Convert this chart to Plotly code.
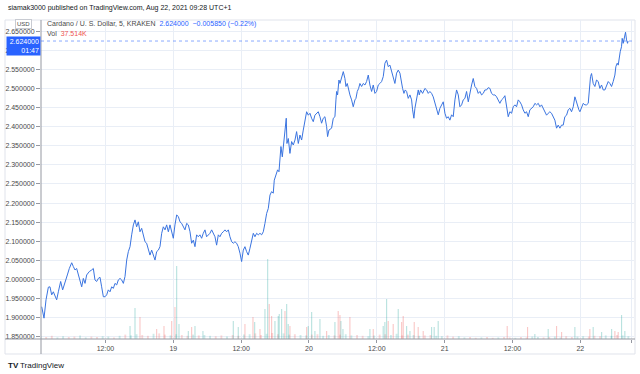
import pandas as pd
import plotly.graph_objects as go

# ---------------- data ----------------
base_time = "2021-08-18 00:00"

price_hours = [
    0.71, 1.12, 1.48, 1.89, 2.18, 2.48, 2.77, 3.07, 3.36, 3.66, 4.07, 4.42, 4.84, 5.25, 5.60, 6.02,
    6.31, 6.61, 6.90, 7.20, 7.49, 7.79, 8.08, 8.38, 8.67, 9.14, 9.55, 9.85, 10.14, 10.44, 10.73,
    11.03, 11.32, 11.62, 11.91, 12.21, 12.50, 12.80, 13.09, 13.39, 13.68, 13.98, 14.27, 14.57,
    14.86, 15.16, 15.45, 15.75, 16.04, 16.34, 16.63, 16.93, 17.22, 17.51, 17.81, 18.10, 18.40,
    18.69, 18.99, 19.28, 19.58, 19.87, 20.17, 20.46, 20.76, 21.05, 21.35, 21.64, 21.94, 22.23,
    22.53, 22.82, 23.12, 23.41, 23.71, 24.00, 24.29, 24.59, 24.88, 25.18, 25.47, 25.77, 26.06,
    26.36, 26.65,
    26.95, 27.24, 27.54, 27.83, 28.12, 28.42, 28.71, 29.01, 29.30, 29.60, 29.89, 30.19, 30.48,
    30.78, 31.07, 31.37, 31.66, 31.96, 32.25, 32.55, 32.84, 33.14, 33.43, 33.73, 34.02, 34.32,
    34.61, 34.90, 35.20, 35.49, 35.79, 36.08, 36.38, 36.67, 36.97, 37.26, 37.56, 37.85, 38.15,
    38.44, 38.74, 39.03, 39.33, 39.62, 39.92, 40.21, 40.51, 40.80, 41.10, 41.39, 41.68, 41.86,
    42.10, 42.45, 42.69, 42.86, 43.04, 43.28, 43.51, 43.75, 43.98, 44.10, 44.34, 44.63, 44.93,
    45.22, 45.52, 45.81, 46.11, 46.40, 46.70, 46.99, 47.29, 47.58, 47.88, 48.17, 48.46, 48.76,
    49.05, 49.35, 49.64, 49.94, 50.23, 50.53, 50.82, 51.12, 51.29, 51.53,
    52.00, 52.30, 52.59, 52.77, 52.89, 53.06, 53.30, 53.48, 53.77, 54.07, 54.36, 54.54, 54.77,
    55.01, 55.24, 55.54, 55.83, 56.13, 56.31, 56.54, 56.78, 57.01, 57.31, 57.60, 57.90, 58.19,
    58.49, 58.78, 59.08, 59.37, 59.67, 59.96, 60.26, 60.55, 60.85, 61.14, 61.44, 61.73, 62.02,
    62.32, 62.61, 62.91, 63.20, 63.50, 63.79, 64.09, 64.27, 64.56, 64.80, 65.03, 65.27, 65.56,
    65.86, 66.15, 66.33, 66.56, 66.74, 67.04, 67.33, 67.51, 67.74, 68.10, 68.51, 68.81, 69.10,
    69.39, 69.69, 69.98, 70.28, 70.57, 70.87, 71.16, 71.46, 71.75, 72.05, 72.34, 72.64, 72.93,
    73.23, 73.52, 73.82, 74.11, 74.41, 74.70, 75.00, 75.29, 75.59, 75.88, 76.18, 76.47, 76.77,
    77.06, 77.35, 77.65, 77.94,
    78.24, 78.53, 78.83, 79.12, 79.42, 79.71, 80.01, 80.30, 80.60, 80.89, 81.19, 81.48, 81.77,
    82.07, 82.36, 82.66, 82.95, 83.13, 83.25, 83.54, 83.84, 84.13, 84.43, 84.72, 85.02, 85.31,
    85.61, 85.90, 86.20, 86.49, 86.79, 87.08, 87.38, 87.67, 87.97, 88.26, 88.56, 88.85, 89.14,
    89.44, 89.73, 90.03, 90.32, 90.62, 90.91, 91.21, 91.50, 91.80, 92.09, 92.39, 92.68, 92.98,
    93.27, 93.57, 93.86, 94.16, 94.45, 94.75, 95.04, 95.22, 95.45, 95.75, 95.93, 96.22, 96.52,
    96.81, 97.11, 97.40, 97.58, 97.81, 97.99, 98.28, 98.58, 98.87, 99.17, 99.46, 99.76, 100.05,
    100.35, 100.64, 100.94, 101.23, 101.53, 101.82, 102.12, 102.29, 102.53, 102.71, 102.88,
    103.06, 103.29, 103.41, 103.59, 103.77, 104.00, 104.18, 104.36, 104.45,
]

price_values = [
    1.929, 1.899, 1.947, 1.980, 1.981, 1.960, 1.968, 1.955, 1.947, 1.968, 1.995, 1.973, 1.990, 2.012, 2.029, 2.044,
    2.034, 2.025, 2.029, 2.012, 1.999, 1.981, 2.003, 1.990, 2.012, 2.021, 2.025, 2.029, 1.999, 1.995, 2.003,
    2.006, 1.981, 1.955, 1.955, 1.960, 1.973, 1.968, 1.981, 1.977, 1.990, 1.986, 1.999, 2.003,
    1.999, 1.990, 2.008, 2.051, 2.073, 2.086, 2.117, 2.143, 2.156, 2.138, 2.151, 2.125, 2.134,
    2.112, 2.099, 2.095, 2.077, 2.064, 2.077, 2.064, 2.051, 2.073, 2.077, 2.086, 2.121, 2.138,
    2.130, 2.143, 2.125, 2.143, 2.125, 2.108, 2.143, 2.169, 2.165, 2.151, 2.147, 2.138, 2.130,
    2.147, 2.143,
    2.125, 2.095, 2.103, 2.086, 2.117, 2.112, 2.117, 2.108, 2.121, 2.130, 2.112, 2.117, 2.121,
    2.130, 2.121, 2.112, 2.090, 2.117, 2.112, 2.121, 2.125, 2.130, 2.125, 2.130, 2.112, 2.099,
    2.095, 2.099, 2.095, 2.086, 2.069, 2.047, 2.077, 2.086, 2.073, 2.064, 2.082, 2.103, 2.121,
    2.112, 2.121, 2.117, 2.121, 2.117, 2.125, 2.147, 2.173, 2.186, 2.221, 2.230, 2.226, 2.260,
    2.269, 2.287, 2.282, 2.308, 2.348, 2.321, 2.356, 2.374, 2.422, 2.356, 2.369, 2.330, 2.361,
    2.352, 2.365, 2.387, 2.356, 2.378, 2.365, 2.391, 2.413, 2.439, 2.430, 2.435, 2.422, 2.413,
    2.430, 2.435, 2.439, 2.426, 2.409, 2.422, 2.426, 2.400, 2.374, 2.391,
    2.396, 2.422, 2.426, 2.470, 2.492, 2.483, 2.522, 2.513, 2.531, 2.544, 2.526, 2.505, 2.513,
    2.496, 2.483, 2.470, 2.452, 2.470, 2.474, 2.492, 2.500, 2.513, 2.505, 2.513, 2.509, 2.518,
    2.535, 2.509, 2.492, 2.509, 2.487, 2.492, 2.509, 2.513, 2.518, 2.531, 2.566, 2.574, 2.557,
    2.561, 2.544, 2.522, 2.513, 2.540, 2.548, 2.540, 2.522, 2.500, 2.487, 2.496, 2.492, 2.474,
    2.483, 2.470, 2.444, 2.422, 2.448, 2.470, 2.496, 2.483, 2.496, 2.487, 2.500, 2.496, 2.487,
    2.492, 2.487, 2.478, 2.461, 2.452, 2.431, 2.448, 2.457, 2.465, 2.435, 2.422, 2.426, 2.417,
    2.431, 2.426, 2.470, 2.496, 2.483, 2.452, 2.457, 2.470, 2.474, 2.492, 2.465, 2.492, 2.509,
    2.526, 2.505, 2.500, 2.487,
    2.492, 2.483, 2.487, 2.496, 2.496, 2.502, 2.500, 2.487, 2.483, 2.483, 2.478, 2.470, 2.461,
    2.470, 2.474, 2.481, 2.457, 2.439, 2.426, 2.439, 2.435, 2.452, 2.457, 2.452, 2.470, 2.465,
    2.457, 2.444, 2.435, 2.439, 2.426, 2.444, 2.448, 2.452, 2.461, 2.457, 2.461, 2.452, 2.457,
    2.448, 2.439, 2.430, 2.435, 2.439, 2.435, 2.426, 2.417, 2.396, 2.404, 2.396, 2.404, 2.404,
    2.426, 2.430, 2.444, 2.448, 2.439, 2.452, 2.478, 2.470, 2.457, 2.444, 2.439, 2.452, 2.461,
    2.457, 2.457, 2.461, 2.496, 2.531, 2.539, 2.513, 2.505, 2.522, 2.518, 2.500, 2.509, 2.496,
    2.496, 2.505, 2.518, 2.513, 2.505, 2.518, 2.535, 2.557, 2.566, 2.561, 2.583,
    2.596, 2.609, 2.631, 2.618, 2.631, 2.647, 2.627, 2.618, 2.624,
]

# notable volume bars (hours since base, thousands, up/down)
spike_hours = [16.34, 17.22, 18.10, 21.05, 22.35, 23.71, 24.29, 24.59, 25.00, 26.65, 27.24, 27.83,
               29.24, 34.61, 35.49, 36.67, 38.09, 38.39, 39.33, 40.21, 40.69, 40.97, 41.39, 41.98,
               42.56, 42.74, 43.16, 43.75, 44.05, 44.33, 44.63, 47.59, 47.87, 48.47, 49.05, 49.94,
               51.12, 52.59, 53.17, 53.48, 53.65, 54.01, 55.24, 58.78, 59.37, 61.13, 61.43, 61.73,
               62.02, 62.90, 63.79, 64.39, 64.67, 65.27, 65.86, 66.62, 67.32, 68.21, 69.69, 70.15,
               70.86, 83.07, 86.67, 87.96, 90.32, 91.80, 92.69, 95.04, 97.69, 98.28, 99.77, 101.54,
               102.12, 102.70, 103.30, 103.88]
spike_volume_k = [163, 388, 275, 125, 163, 225, 400, 913, 188, 100, 150, 163,
                  100, 225, 150, 188, 275, 213, 125, 375, 1000, 438, 288, 225,
                  288, 313, 375, 350, 438, 188, 163, 150, 163, 338, 100, 250,
                  100, 213, 350, 300, 225, 125, 275, 125, 125, 163, 213, 500,
                  225, 188, 375, 213, 288, 163, 100, 213, 150, 100, 150, 150,
                  225, 163, 150, 63, 125, 163, 88, 150, 125, 150, 88, 125,
                  100, 88, 300, 100]
spike_dir = list("uudddddu" "uuduuu" "uddud" "uudduuuud" "uudduu" "uudud" "duudu"
                 "duuudd" "udduu" "ddduu" "udduu" "dduduu" "udduud" "ud")

# hourly background volume (thousands), one per hour from 00:30 on Aug 18
hourly_volume_k = [30, 25, 40, 20, 35, 25, 30, 45, 20, 30, 25, 35, 30, 20, 40,
                   55, 45, 60, 50, 40, 65, 70, 55, 45, 60, 50, 40, 55, 45, 50,
                   40, 35, 45, 30, 50, 40, 55, 60, 70, 50, 65, 75, 60, 70, 55,
                   60, 50, 45, 55, 60, 40, 50, 45, 55, 60, 45, 50, 40, 35, 45,
                   55, 60, 50, 65, 45, 55, 50, 40, 45, 50, 40, 35, 45, 30, 35,
                   20, 25, 15, 20, 25, 15, 20, 25, 20, 15, 25, 20, 30, 25, 20,
                   25, 30, 20, 35, 25, 30, 35, 30, 40, 35, 45, 40, 50, 45, 35]
hourly_dir = list("udduudduudduudu" "duuddudduuddudu" "uddudduuddudduu" "duudduudduudduu"
                  "dduudduudduuddu" "uddudduddudduud" "duudduuddduuduu")

tick_times = ["2021-08-18 12:00", "2021-08-19 00:00", "2021-08-19 12:00", "2021-08-20 00:00",
              "2021-08-20 12:00", "2021-08-21 00:00", "2021-08-21 12:00", "2021-08-22 00:00",
              "2021-08-22 09:00"]
tick_labels = ["12:00", "19", "12:00", "20", "12:00", "21", "12:00", "22", "09:00"]

last_price = 2.624
view_start_h, view_end_h = 0.59, 105.5
vol_axis_max_k = 3990

# ---------------- build ----------------
base = pd.Timestamp(base_time)
t_price = base + pd.to_timedelta(price_hours, unit="h")
t_hourly = base + pd.to_timedelta([h + 0.5 for h in range(len(hourly_volume_k))], unit="h")
t_spike = base + pd.to_timedelta(spike_hours, unit="h")

UP = "rgba(38,166,154,0.22)"
DN = "rgba(239,83,80,0.22)"
UP_S = "rgba(38,166,154,0.32)"
DN_S = "rgba(239,83,80,0.32)"
n_sp = len(spike_hours)
spike_dir = (spike_dir + ["u"] * n_sp)[:n_sp]

LINE_BLUE = "#3a74e0"
BLUE = "#2962ff"
FONT = "Liberation Sans"

fig = go.Figure()
fig.add_trace(go.Bar(x=t_hourly, y=hourly_volume_k, yaxis="y2",
                     marker=dict(color=[UP if d == "u" else DN for d in hourly_dir], line_width=0),
                     width=20 * 60 * 1000, showlegend=False, hoverinfo="skip"))
fig.add_trace(go.Bar(x=t_spike, y=spike_volume_k, yaxis="y2",
                     marker=dict(color=[UP_S if d == "u" else DN_S for d in spike_dir], line_width=0),
                     width=12 * 60 * 1000, showlegend=False, hoverinfo="skip"))
fig.add_trace(go.Scatter(x=t_price, y=price_values, mode="lines",
                         line=dict(color=LINE_BLUE, width=1), showlegend=False, hoverinfo="skip"))

grid = "#e9eef6"
axcol = "#9598a1"
fig.update_layout(
    template="none",
    width=640, height=374,
    margin=dict(l=41, r=6, t=20, b=35, autoexpand=False),
    paper_bgcolor="white", plot_bgcolor="white",
    font=dict(family=FONT, size=7, color="#4a4a4a"),
    barmode="overlay",
    hovermode=False,
    xaxis=dict(type="date",
               range=[base + pd.Timedelta(hours=view_start_h), base + pd.Timedelta(hours=view_end_h)],
               tickvals=tick_times, ticktext=tick_labels,
               showgrid=True, gridcolor=grid, gridwidth=1, zeroline=False,
               ticks="outside", ticklen=3, tickcolor=axcol, showline=False,
               tickfont=dict(size=7, color="#4a4a4a"), automargin=False),
    yaxis=dict(range=[1.8445, 2.679], dtick=0.05, tick0=1.85, tickformat=".6f",
               showgrid=True, gridcolor=grid, gridwidth=1, zeroline=False,
               ticks="outside", ticklen=4, tickcolor=axcol, showline=False,
               tickfont=dict(size=7, color="#4a4a4a"), automargin=False),
    yaxis2=dict(overlaying="y", range=[0, vol_axis_max_k], visible=False),
)

shapes = [
    dict(type="rect", xref="paper", yref="paper", x0=-0.0607, x1=1.0017, y0=-0.047, y1=1.0,
         line=dict(color="#e0e3eb", width=1), layer="below"),
    dict(type="line", xref="paper", yref="paper", x0=0, x1=0, y0=-0.047, y1=1.0,
         line=dict(color=axcol, width=1)),
    dict(type="line", xref="paper", yref="paper", x0=-0.0607, x1=1.0017, y0=0, y1=0,
         line=dict(color=axcol, width=1)),
    dict(type="line", xref="paper", yref="y", x0=0, x1=1, y0=last_price, y1=last_price,
         line=dict(color="rgba(41,98,255,0.55)", width=1, dash="dot")),
]
fig.update_layout(shapes=shapes)

ann = [
    dict(text="siamak3000 published on TradingView.com, Aug 22, 2021 09:28 UTC+1",
         xref="paper", yref="paper", x=-0.059, y=1.037, xanchor="left", yanchor="middle",
         showarrow=False, font=dict(size=7, color="#131722")),
    dict(text="Cardano / U. S. Dollar, 5, KRAKEN  <span style='color:#2962ff'>2.624000  \u22120.005850 (\u22120.22%)</span>",
         xref="paper", yref="paper", x=0.007, y=0.986, xanchor="left", yanchor="middle",
         showarrow=False, font=dict(size=7, color="#4a4a4a")),
    dict(text="Vol  <span style='color:#ef5350'>37.514K</span>",
         xref="paper", yref="paper", x=0.007, y=0.958, xanchor="left", yanchor="middle",
         showarrow=False, font=dict(size=7, color="#4a4a4a")),
    dict(text="USD", xref="paper", yref="paper", x=-0.0287, y=0.989, xanchor="center", yanchor="middle",
         showarrow=False, font=dict(size=6, color="#4a4a4a"), bordercolor="#c8cbd2", borderwidth=1,
         borderpad=1, bgcolor="white"),
    dict(text="2.624000<br>01:47", xref="paper", yref="y", x=0, y=last_price,
         xanchor="right", yanchor="top", yshift=5, showarrow=False, align="right",
         font=dict(size=7, color="white"), bgcolor=BLUE, borderpad=1, width=31),
    dict(text="<b>TV</b>", xref="paper", yref="paper", x=-0.059, y=-0.082, xanchor="left", yanchor="middle",
         showarrow=False, font=dict(size=8, color="#131722")),
    dict(text="TradingView", xref="paper", yref="paper", x=-0.039, y=-0.082, xanchor="left", yanchor="middle",
         showarrow=False, font=dict(size=8, color="#131722")),
]
fig.update_layout(annotations=ann)

fig.write_html("out.html", config={"displayModeBar": False, "staticPlot": True},
               post_script="document.body.style.margin='0';document.body.style.padding='0';")
